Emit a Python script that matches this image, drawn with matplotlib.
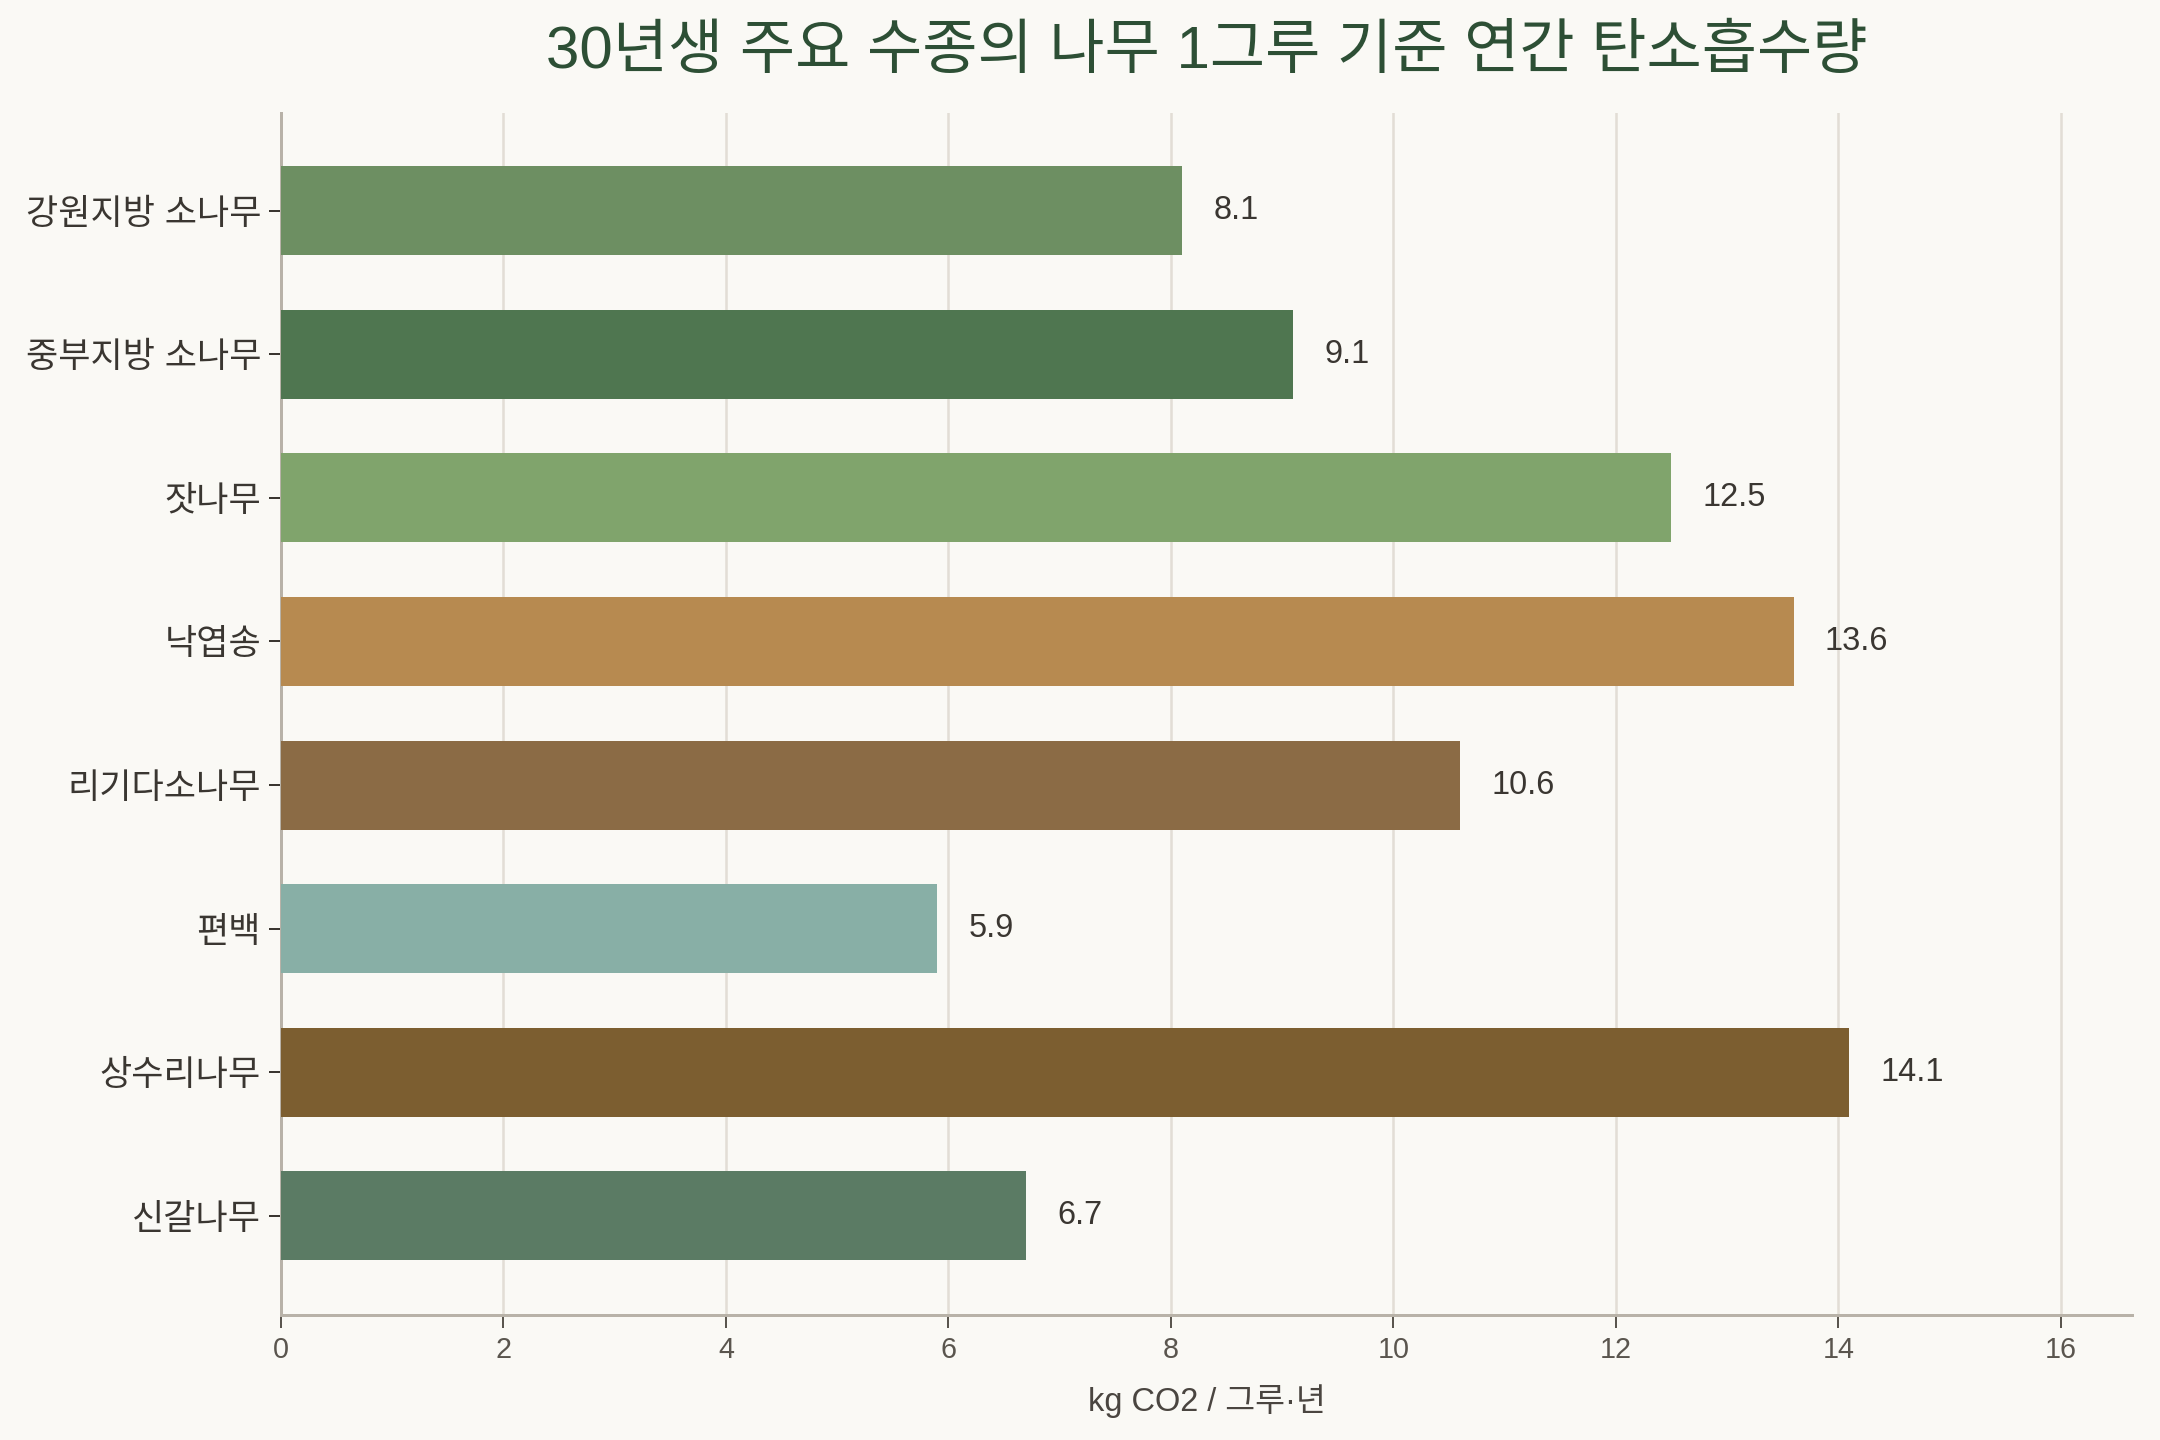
import matplotlib
matplotlib.use("Agg")
import matplotlib.pyplot as plt

categories = ["강원지방 소나무", "중부지방 소나무", "잣나무", "낙엽송", "리기다소나무", "편백", "상수리나무", "신갈나무"]
values = [8.1, 9.1, 12.5, 13.6, 10.6, 5.9, 14.1, 6.7]
colors = ["#6d8f62", "#4f7650", "#80a46c", "#b78a50", "#8b6b45", "#88afa6", "#7c5e30", "#5b7b64"]
xticks = [0, 2, 4, 6, 8, 10, 12, 14, 16]

plt.rcParams['font.family'] = ['Liberation Sans', 'Noto Sans CJK KR', 'DejaVu Sans']

bg = "#faf9f5"
fig = plt.figure(figsize=(12, 8), dpi=180, facecolor=bg)
ax = fig.add_axes([281/2160, 1 - 1315/1440, (2132-281)/2160, (1315-113)/1440])
ax.set_facecolor(bg)

y = list(range(len(categories)))
ax.barh(y, values, height=0.62, color=colors, zorder=3)
for yi, v in zip(y, values):
    ax.text(v + 0.28, yi, f"{v}", va="center", ha="left", fontsize=13, color="#3a3631", zorder=4)

ax.set_yticks(y)
ax.set_yticklabels(categories, fontsize=14, color="#3a3631")
ax.set_ylim(len(categories) - 1 + 0.69, -0.68)
ax.set_xlim(0, 16.64)
ax.set_xticks(xticks)
ax.set_xticklabels([str(t) for t in xticks], fontsize=11.5, color="#5a554e")
ax.tick_params(axis='y', length=5, color="#3a3631", pad=3)
ax.tick_params(axis='x', length=5, color="#5a554e", pad=3.5)

ax.grid(axis='x', color="#e2ddd5", linewidth=1.0, zorder=0)
ax.set_axisbelow(True)
for s in ["top", "right"]:
    ax.spines[s].set_visible(False)
for s in ["left", "bottom"]:
    ax.spines[s].set_color("#b8b2a8")
    ax.spines[s].set_linewidth(1.2)

ax.set_xlabel("kg CO2 / 그루·년", fontsize=13, color="#4a4540", labelpad=8)
ax.set_title("30년생 주요 수종의 나무 1그루 기준 연간 탄소흡수량", fontsize=24, color="#2d4f35", pad=18)

fig.savefig("out.png", dpi=180, facecolor=bg)
